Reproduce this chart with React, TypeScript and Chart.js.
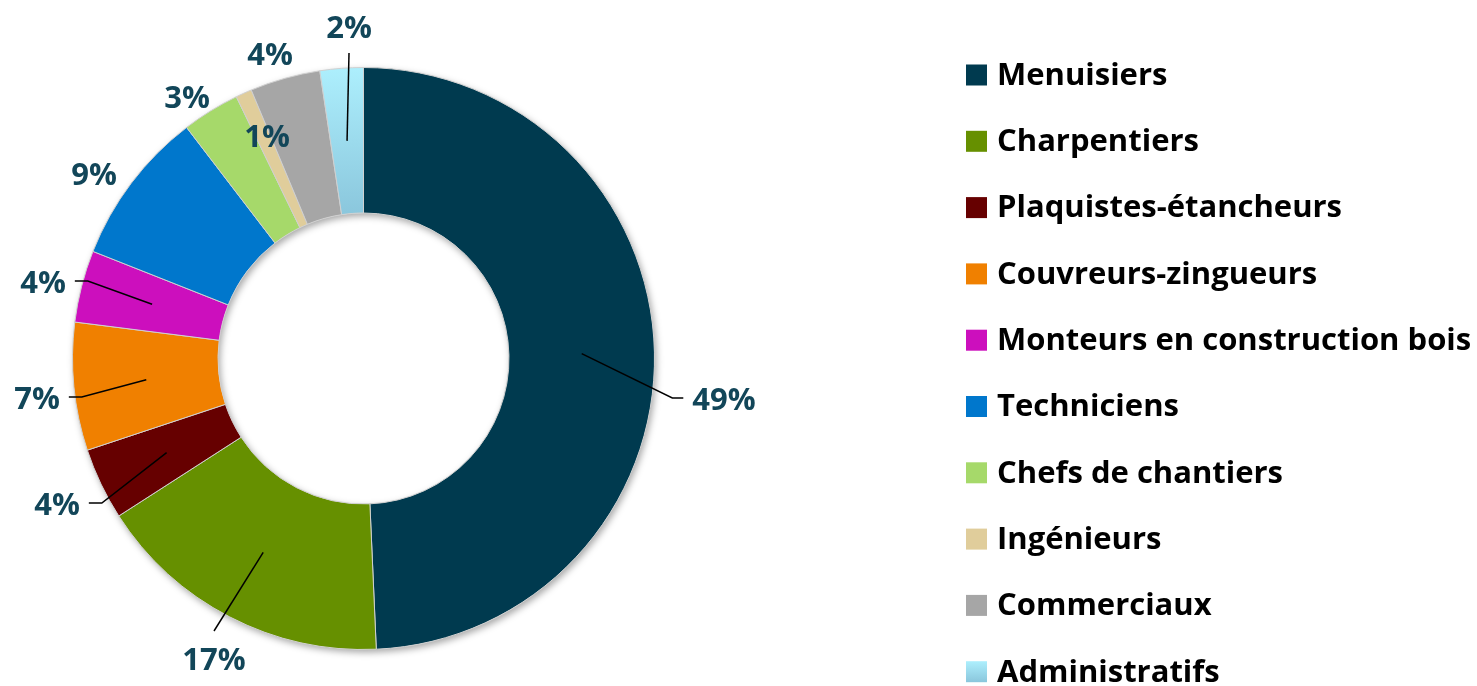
import React, { useEffect, useRef } from 'react';
import { Chart, registerables } from 'chart.js';

Chart.register(...registerables);

const categories = [
  'Menuisiers',
  'Charpentiers',
  'Plaquistes-étancheurs',
  'Couvreurs-zingueurs',
  'Monteurs en construction bois',
  'Techniciens',
  'Chefs de chantiers',
  'Ingénieurs',
  'Commerciaux',
  'Administratifs',
];
const shares = [49.3, 16.6, 4.0, 7.1, 4.0, 8.6, 3.2, 0.9, 3.9, 2.4];
const colors = ['#003A4F', '#669000', '#660000', '#F08000', '#CC0FBD', '#0077CC', '#A6D96A', '#E0CD9B', '#A6A6A6', '#ADEFFD'];
const gradientIndex = 9;
const gradientBottom = '#8AC6DC';

// label placement relative to the ring centre (layout only)
const labelLayout = [
  { dx: 360.5, dy: 41.5, leader: 'leftEdge' },
  { dx: -149.5, dy: 301.5, leader: 'top' },
  { dx: -306.5, dy: 146.5, leader: 'rightEdge' },
  { dx: -326.5, dy: 40.5, leader: 'rightEdge' },
  { dx: -320.5, dy: -75.5, leader: 'rightEdge' },
  { dx: -269.5, dy: -183.5, leader: 'none' },
  { dx: -176.5, dy: -260.5, leader: 'none' },
  { dx: -96.5, dy: -221.5, leader: 'none' },
  { dx: -93.5, dy: -303.5, leader: 'none' },
  { dx: -14.5, dy: -330.5, leader: 'bottom' },
];

const FONT = '"Open Sans", "DejaVu Sans", sans-serif';
const LABEL_COLOR = '#124659';

export default function App() {
  const ref = useRef<HTMLCanvasElement | null>(null);

  useEffect(() => {
    const canvas = ref.current;
    if (!canvas) return;

    const total = shares.reduce((a, b) => a + b, 0);

    const ringShadow = {
      id: 'ringShadow',
      beforeDatasetsDraw(chart: any) {
        const arc = chart.getDatasetMeta(0).data[0];
        if (!arc) return;
        const { x, y, innerRadius, outerRadius } = arc.getProps(['x', 'y', 'innerRadius', 'outerRadius'], true);
        const ctx = chart.ctx;
        ctx.save();
        ctx.shadowColor = 'rgba(0,0,0,0.35)';
        ctx.shadowBlur = 7;
        ctx.shadowOffsetX = 2;
        ctx.shadowOffsetY = 3;
        ctx.beginPath();
        ctx.arc(x, y, outerRadius, 0, Math.PI * 2);
        ctx.arc(x, y, innerRadius, 0, Math.PI * 2, true);
        ctx.closePath();
        ctx.fillStyle = '#ffffff';
        ctx.fill();
        ctx.restore();
      },
    };

    const labelsPlugin = {
      id: 'pctLabels',
      afterDatasetsDraw(chart: any) {
        const ctx = chart.ctx;
        const meta = chart.getDatasetMeta(0);
        const first = meta.data[0];
        const cx = first.x;
        const cy = first.y;
        ctx.save();
        ctx.font = `bold 31px ${FONT}`;
        ctx.textBaseline = 'middle';
        ctx.textAlign = 'center';
        meta.data.forEach((arc: any, i: number) => {
          const lay = labelLayout[i];
          const text = Math.round((shares[i] / total) * 100) + '%';
          const tx = cx + lay.dx;
          const ty = cy + lay.dy;
          const w = ctx.measureText(text).width;
          const c = arc.tooltipPosition(true);
          ctx.strokeStyle = '#000000';
          ctx.lineWidth = 1.5;
          if (lay.leader === 'leftEdge') {
            const tail = tx - w / 2 - 9;
            const ly = ty - 2;
            ctx.beginPath();
            ctx.moveTo(c.x, c.y);
            ctx.lineTo(tail - 11, ly);
            ctx.lineTo(tail, ly);
            ctx.stroke();
          } else if (lay.leader === 'rightEdge') {
            const tail = tx + w / 2 + 9;
            const ly = ty - 2;
            ctx.beginPath();
            ctx.moveTo(c.x, c.y);
            ctx.lineTo(tail + 13, ly);
            ctx.lineTo(tail, ly);
            ctx.stroke();
          } else if (lay.leader === 'top') {
            ctx.beginPath();
            ctx.moveTo(c.x, c.y);
            ctx.lineTo(tx, ty - 29);
            ctx.stroke();
          } else if (lay.leader === 'bottom') {
            ctx.beginPath();
            ctx.moveTo(c.x, c.y);
            ctx.lineTo(tx, ty + 25);
            ctx.stroke();
          }
          ctx.fillStyle = LABEL_COLOR;
          ctx.fillText(text, tx, ty + 1);
        });
        ctx.restore();
      },
    };

    const legendPlugin = {
      id: 'sideLegend',
      afterDraw(chart: any) {
        const ctx = chart.ctx;
        ctx.save();
        ctx.font = `bold 31px ${FONT}`;
        ctx.textBaseline = 'middle';
        ctx.textAlign = 'left';
        const x0 = 966;
        const y0 = 75;
        const step = 66.3;
        const size = 21;
        categories.forEach((name, i) => {
          const y = y0 + i * step;
          if (i === gradientIndex) {
            const g = ctx.createLinearGradient(0, y - size / 2, 0, y + size / 2);
            g.addColorStop(0, colors[i]);
            g.addColorStop(1, gradientBottom);
            ctx.fillStyle = g;
          } else {
            ctx.fillStyle = colors[i];
          }
          ctx.fillRect(x0, y - size / 2, size, size);
          ctx.fillStyle = '#000000';
          ctx.fillText(name, x0 + 31, y + 1);
        });
        ctx.restore();
      },
    };

    const chart = new Chart(canvas, {
      type: 'doughnut',
      data: {
        labels: categories,
        datasets: [
          {
            data: shares,
            backgroundColor: (c: any) => {
              const i = c.dataIndex;
              if (i === gradientIndex && c.chart.chartArea) {
                const top = c.chart.chartArea.top;
                const g = c.chart.ctx.createLinearGradient(0, top, 0, top + 150);
                g.addColorStop(0, colors[i]);
                g.addColorStop(1, gradientBottom);
                return g;
              }
              return colors[i];
            },
            borderColor: '#D0D0D0',
            borderWidth: 1,
          },
        ],
      },
      options: {
        responsive: false,
        animation: false,
        cutout: '50%',
        layout: { padding: { left: 72, right: 822, top: 67, bottom: 36 } },
        plugins: {
          legend: { display: false },
          tooltip: { enabled: false },
        },
      },
      plugins: [ringShadow, labelsPlugin, legendPlugin],
    } as any);

    return () => chart.destroy();
  }, []);

  return (
    <div style={{ position: 'absolute', left: 0, top: 0, width: 1477, height: 686, background: '#ffffff' }}>
      <canvas ref={ref} width={1477} height={686} style={{ width: 1477, height: 686, display: 'block' }} />
    </div>
  );
}
